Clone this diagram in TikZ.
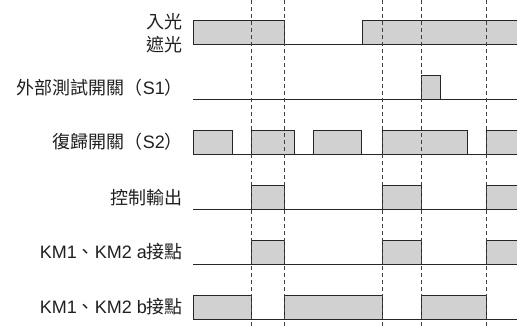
\documentclass[tikz,border=0pt]{standalone}
\usepackage{fontspec}
\setmainfont{Liberation Sans}
\newfontfamily\cjk{Noto Sans CJK TC}
\begin{document}
\begin{tikzpicture}[x=1pt,y=-1pt,
  lbl/.style={anchor=east,inner sep=0pt,font=\fontsize{18}{20}\selectfont,text=black!88},
  pulse/.style={fill=black!18,draw=black!85,line width=0.9pt},
  base/.style={draw=black!85,line width=0.9pt},
  guide/.style={draw=black!75,line width=0.7pt,dash pattern=on 4pt off 3pt}]
\useasboundingbox (0,0) rectangle (517,327);
% labels
\node[lbl] (l1a) at (183,22) {\cjk 入光};
\node[lbl] (l1b) at (183,44.5) {\cjk 遮光};
\node[lbl] (l2) at (183,88) {{\cjk 外部測試開關（}S1{\cjk ）}};
\node[lbl] (l3) at (183,142) {{\cjk 復歸開關（}S2{\cjk ）}};
\node[lbl] (l4) at (183,198) {\cjk 控制輸出};
\node[lbl] (l5) at (183,252) {KM1{\cjk 、}KM2 a{\cjk 接點}};
\node[lbl] (l6) at (183,307) {KM1{\cjk 、}KM2 b{\cjk 接點}};
% row 1
\draw[pulse] (193,20.5) rectangle (284.3,44);
\draw[pulse] (362,20.5) rectangle (519,44);
\draw[base] (193,44) -- (517,44);
% row 2
\draw[pulse] (421.3,75.7) rectangle (440.7,99);
\draw[base] (193,99) -- (517,99);
% row 3
\draw[pulse] (193,130) rectangle (232.7,154.3);
\draw[pulse] (251.3,130) rectangle (294.3,154.3);
\draw[pulse] (313.7,130) rectangle (361.3,154.3);
\draw[pulse] (382.3,130) rectangle (467.7,154.3);
\draw[pulse] (486.3,130) rectangle (519,154.3);
\draw[base] (193,154.3) -- (517,154.3);
% row 4
\draw[pulse] (251.3,185.3) rectangle (284.3,209);
\draw[pulse] (382.3,185.3) rectangle (421.3,209);
\draw[pulse] (486.3,185.3) rectangle (519,209);
\draw[base] (193,209) -- (517,209);
% row 5
\draw[pulse] (251.3,240) rectangle (284.3,264.3);
\draw[pulse] (382.3,240) rectangle (421.3,264.3);
\draw[pulse] (486.3,240) rectangle (519,264.3);
\draw[base] (193,264.3) -- (517,264.3);
% row 6
\draw[pulse] (193,295.3) rectangle (251.3,319.3);
\draw[pulse] (284.3,295.3) rectangle (382.3,319.3);
\draw[pulse] (421.3,295.3) rectangle (486.3,319.3);
\draw[base] (193,319.3) -- (517,319.3);
% guides
\foreach \gx in {251.3,284.3,382.3,421.3,486.3}
  \draw[guide] (\gx,0) -- (\gx,327);
\end{tikzpicture}
\end{document}
